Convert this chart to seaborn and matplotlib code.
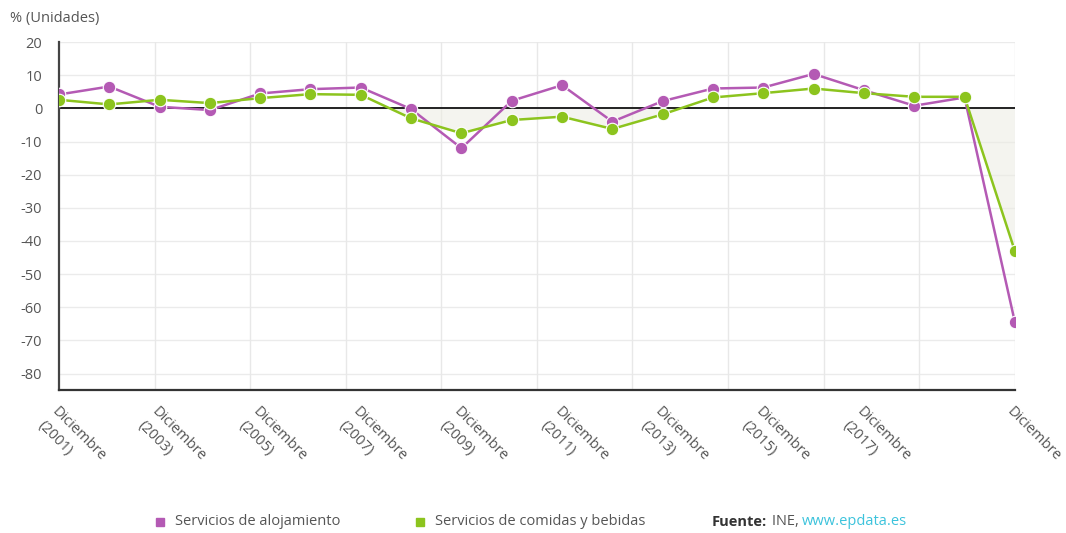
import numpy as np
import pandas as pd
import matplotlib
matplotlib.use("Agg")
import matplotlib.pyplot as plt
import seaborn as sns

# Tasa de variación anual (%) en diciembre de cada año
anios = list(range(2001, 2021))
alojamiento = [4.2, 6.6, 0.5, -0.5, 4.5, 5.8, 6.3, -0.2, -12.0, 2.3, 7.0, -4.0,
               2.2, 6.0, 6.3, 10.4, 5.5, 0.8, 3.3, -64.4]
comidas = [2.6, 1.2, 2.6, 1.6, 3.1, 4.3, 4.1, -3.0, -7.5, -3.5, -2.5, -6.2,
           -1.8, 3.3, 4.6, 6.0, 4.6, 3.5, 3.5, -43.0]
serie_nombres = ["Servicios de alojamiento", "Servicios de comidas y bebidas"]
etiquetas_x = [f"Diciembre\n({a})" for a in range(2001, 2019, 2)] + ["Diciembre"]
posiciones_etiquetas = list(range(0, 18, 2)) + [19]
yticks = list(range(-80, 21, 10))

colores = {serie_nombres[0]: "#b45ab4", serie_nombres[1]: "#8cc41e"}

sns.set_theme(style="white")
plt.rcParams["font.family"] = ["Open Sans", "DejaVu Sans"]

df = pd.DataFrame({
    "idx": list(range(len(anios))) * 2,
    "valor": alojamiento + comidas,
    "serie": [serie_nombres[0]] * len(anios) + [serie_nombres[1]] * len(anios),
})

fig = plt.figure(figsize=(10.66, 5.33), dpi=100)
ax = fig.add_axes([0.0553, 0.268, 0.8967, 0.653])

# Rejilla
for yv in yticks:
    ax.axhline(yv, color="#ebebeb", lw=1.0, zorder=0)
for xv in np.linspace(0, 19, 11)[1:]:
    ax.axvline(xv, color="#e8e8e8", lw=1.0, zorder=0)

# Sombreado por debajo de cero de la serie de comidas
x = np.arange(len(anios))
c = np.array(comidas)
ax.fill_between(x, c, 0, where=c < 0, interpolate=True,
                color="#ecece2", alpha=0.55, zorder=1, lw=0)

ax.axhline(0, color="#222222", lw=1.4, zorder=2)

sns.lineplot(data=df, x="idx", y="valor", hue="serie", palette=colores,
             marker="o", markersize=9, markeredgecolor="white",
             markeredgewidth=0.8, linewidth=1.8, legend=False, ax=ax, zorder=3)

ax.set_xlim(0, 19)
ax.set_ylim(-85, 20)
ax.set_xlabel("")
ax.set_ylabel("")

ax.set_yticks(yticks)
ax.set_yticklabels([str(v) for v in yticks], fontsize=10.5, color="#555555")
ax.set_yticks(np.arange(-85, 21, 1), minor=True)
ax.tick_params(axis="y", which="major", length=4, width=1, color="#444444",
               pad=8, direction="out")
ax.tick_params(axis="y", which="minor", length=2, width=0.8, color="#666666",
               direction="out")

ax.set_xticks(posiciones_etiquetas)
ax.set_xticklabels(etiquetas_x, fontsize=10.5, color="#555555",
                   rotation=-45, ha="left", va="top", rotation_mode="anchor",
                   linespacing=1.45)
ax.tick_params(axis="x", length=3, width=1.5, color="#444444", pad=7)

for s in ["top", "right"]:
    ax.spines[s].set_visible(False)
ax.spines["left"].set_color("#444444")
ax.spines["left"].set_linewidth(1.6)
ax.spines["bottom"].set_color("#333333")
ax.spines["bottom"].set_linewidth(1.6)

fig.text(0.009, 0.965, "% (Unidades)", fontsize=10.5, color="#555555",
         ha="left", va="center")

# Leyenda y fuente
ly = 0.021
fig.patches.append(plt.Rectangle((0.146, ly - 0.008), 0.0075, 0.015,
                                 transform=fig.transFigure,
                                 color=colores[serie_nombres[0]]))
fig.text(0.164, ly, serie_nombres[0], fontsize=10.5, color="#555555",
         va="center", ha="left")
fig.patches.append(plt.Rectangle((0.390, ly - 0.008), 0.0075, 0.015,
                                 transform=fig.transFigure,
                                 color=colores[serie_nombres[1]]))
fig.text(0.408, ly, serie_nombres[1], fontsize=10.5, color="#555555",
         va="center", ha="left")
t1 = fig.text(0.668, ly, "Fuente:", fontsize=10.5, color="#333333",
              fontweight="bold", va="center", ha="left")
fig.canvas.draw()
bb = t1.get_window_extent()
x2 = bb.x1 / fig.bbox.width + 0.004
t2 = fig.text(x2, ly, "INE, ", fontsize=10.5, color="#555555",
              va="center", ha="left")
bb2 = t2.get_window_extent()
fig.text(bb2.x1 / fig.bbox.width, ly, "www.epdata.es", fontsize=10.5,
         color="#3cc3dc", va="center", ha="left")

fig.savefig("out.png", dpi=100)
